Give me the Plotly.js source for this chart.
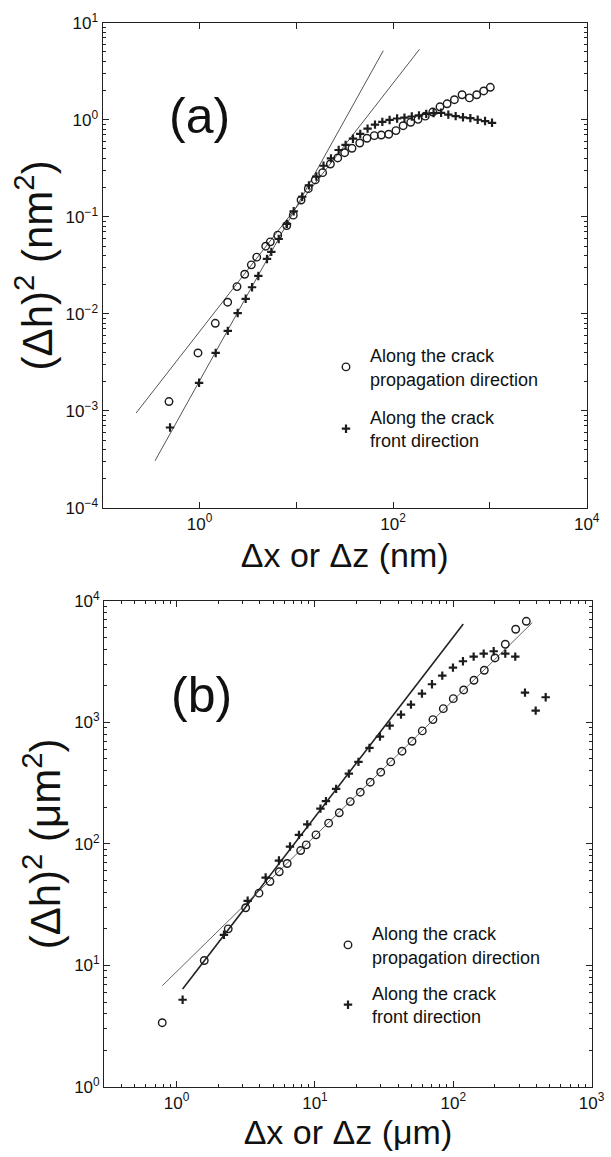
<!DOCTYPE html>
<html>
<head>
<meta charset="utf-8">
<script src="https://cdn.plot.ly/plotly-3.0.1.min.js"></script>
<style>html,body{margin:0;padding:0;background:#fff;}</style>
</head>
<body>
<div id="chart" style="width:611px;height:1157px;"></div>
<script>
// ---------- Panel (a): nm ----------
const a_prop_x = [0.484, 0.965, 1.456, 1.955, 2.44, 2.93, 3.43, 3.9, 4.83, 5.39, 6.43, 7.96, 9.31, 11.2, 13.3, 15.7, 18.7, 22.5, 26.8, 31.6, 37.6, 45.2, 53.7, 63.9, 75.5, 90.1, 107, 127, 152, 181, 215, 257, 305, 361, 430, 516, 614, 731, 863, 1010];
const a_prop_y = [0.00125, 0.00396, 0.0080, 0.0132, 0.0191, 0.0256, 0.032, 0.0384, 0.0498, 0.0552, 0.0647, 0.0812, 0.104, 0.149, 0.195, 0.24, 0.285, 0.35, 0.404, 0.458, 0.508, 0.576, 0.644, 0.686, 0.697, 0.709, 0.773, 0.869, 0.942, 1.01, 1.09, 1.2, 1.36, 1.46, 1.61, 1.81, 1.68, 1.81, 1.98, 2.16];
const a_front_x = [0.496, 0.99, 1.47, 1.96, 2.48, 3.0, 3.49, 4.05, 4.98, 5.52, 6.58, 8.01, 9.4, 11.5, 13.5, 16.1, 19.1, 22.8, 27.4, 32.3, 38.5, 45.8, 54.5, 65, 77.4, 92, 110, 131, 156, 185, 220, 262, 313, 372, 443, 527, 628, 748, 891, 1052];
const a_front_y = [0.000675, 0.00195, 0.00396, 0.00668, 0.0102, 0.0143, 0.0188, 0.0246, 0.0368, 0.0435, 0.0591, 0.0845, 0.114, 0.161, 0.211, 0.26, 0.336, 0.40, 0.488, 0.55, 0.638, 0.714, 0.81, 0.89, 0.95, 0.995, 1.03, 1.05, 1.08, 1.11, 1.15, 1.17, 1.18, 1.13, 1.09, 1.06, 1.04, 1.0, 0.97, 0.93];
const a_fit_steep_x = [0.347, 79.2];
const a_fit_steep_y = [0.000306, 5.15];
const a_fit_shallow_x = [0.221, 187.4];
const a_fit_shallow_y = [0.00095, 5.32];

// ---------- Panel (b): µm ----------
const b_prop_x = [0.787, 1.584, 2.361, 3.155, 3.937, 4.727, 5.52, 6.30, 7.88, 8.65, 10.17, 12.56, 14.99, 18.0, 21.26, 25.1, 29.9, 35.3, 42.6, 50.3, 59.7, 71.3, 84.7, 100, 118.9, 141.1, 167.6, 200.2, 237.7, 282.6, 337.2];
const b_prop_y = [3.38, 10.98, 20.0, 29.8, 39.3, 49.0, 58.9, 68.9, 88.1, 98.1, 118.6, 148, 180, 222.7, 266, 321.5, 388.6, 472, 578, 698, 849, 1052, 1295, 1564, 1845, 2217, 2679, 3381, 4382, 5821, 6770];
const b_front_x = [1.105, 2.198, 3.262, 4.40, 5.49, 6.60, 7.66, 8.80, 10.96, 12.01, 14.23, 17.58, 20.63, 24.78, 29.51, 34.68, 41.88, 49.44, 59.38, 70.15, 83.27, 99.5, 117.5, 140.4, 165.9, 196, 237.7, 280.7, 329.9, 394.3, 465.7];
const b_front_y = [5.22, 17.86, 34.0, 52.8, 72.9, 95.0, 118.6, 144.6, 194.7, 224.8, 283.3, 378.4, 472, 615, 762, 938.6, 1156, 1397, 1720, 2055, 2418, 2813, 3177, 3465, 3668, 3838, 3668, 3465, 1753, 1247, 1607];
const b_fit_steep_x = [1.105, 118.1];
const b_fit_steep_y = [6.39, 6435];
const b_fit_shallow_x = [0.787, 372.6];
const b_fit_shallow_y = [6.80, 6596];

// ---------- Labels / ticks ----------
const legend_prop = 'Along the crack<br>propagation direction';
const legend_front = 'Along the crack<br>front direction';
const a_xtickvals = [1, 100, 10000];
const a_xticktext = ['10<sup>0</sup>', '10<sup>2</sup>', '10<sup>4</sup>'];
const a_xunlabelled = [0.1, 10, 1000];
const a_ytickvals = [1e-4, 1e-3, 1e-2, 1e-1, 1, 10];
const a_yticktext = ['10<sup>\u22124</sup>', '10<sup>\u22123</sup>', '10<sup>\u22122</sup>', '10<sup>\u22121</sup>', '10<sup>0</sup>', '10<sup>1</sup>'];
const b_xtickvals = [1, 10, 100, 1000];
const b_xticktext = ['10<sup>0</sup>', '10<sup>1</sup>', '10<sup>2</sup>', '10<sup>3</sup>'];
const b_ytickvals = [1, 10, 100, 1000, 10000];
const b_yticktext = ['10<sup>0</sup>', '10<sup>1</sup>', '10<sup>2</sup>', '10<sup>3</sup>', '10<sup>4</sup>'];
const a_xtitle = '\u0394x or \u0394z (nm)';
const a_ytitle = '(\u0394h)<sup>2</sup> (nm<sup>2</sup>)';
const b_xtitle = '\u0394x or \u0394z (\u03bcm)';
const b_ytitle = '(\u0394h)<sup>2</sup> (\u03bcm<sup>2</sup>)';
const panel_a_label = '(a)';
const panel_b_label = '(b)';

function minorVals(kFrom, kTo) {
  const out = [];
  for (let k = kFrom; k <= kTo; k++) for (let m = 2; m <= 9; m++) out.push(m * Math.pow(10, k));
  return out;
}

const FONT = 'Liberation Sans, Arial, Helvetica, sans-serif';
const INK = '#1c1c1c';

const circleMarker = {symbol: 'circle-open', size: 7.5, color: INK, line: {color: INK, width: 1.4}};
const plusMarker = {symbol: 'cross-thin-open', size: 6, color: INK, line: {color: INK, width: 2.2}};

const traces = [
  {x: a_fit_steep_x, y: a_fit_steep_y, xaxis: 'x', yaxis: 'y', mode: 'lines', line: {color: '#555', width: 1}, showlegend: false, hoverinfo: 'skip'},
  {x: a_fit_shallow_x, y: a_fit_shallow_y, xaxis: 'x', yaxis: 'y', mode: 'lines', line: {color: '#555', width: 1}, showlegend: false, hoverinfo: 'skip'},
  {x: a_prop_x, y: a_prop_y, xaxis: 'x', yaxis: 'y', mode: 'markers', marker: circleMarker, name: legend_prop, legend: 'legend', legendgroup: 'a1'},
  {x: a_front_x, y: a_front_y, xaxis: 'x', yaxis: 'y', mode: 'markers', marker: plusMarker, name: legend_front, legend: 'legend', legendgroup: 'a2'},
  {x: b_fit_steep_x, y: b_fit_steep_y, xaxis: 'x2', yaxis: 'y2', mode: 'lines', line: {color: '#222', width: 1.6}, showlegend: false, hoverinfo: 'skip'},
  {x: b_fit_shallow_x, y: b_fit_shallow_y, xaxis: 'x2', yaxis: 'y2', mode: 'lines', line: {color: '#666', width: 1}, showlegend: false, hoverinfo: 'skip'},
  {x: b_prop_x, y: b_prop_y, xaxis: 'x2', yaxis: 'y2', mode: 'markers', marker: circleMarker, name: legend_prop, legend: 'legend2', legendgroup: 'b1'},
  {x: b_front_x, y: b_front_y, xaxis: 'x2', yaxis: 'y2', mode: 'markers', marker: plusMarker, name: legend_front, legend: 'legend2', legendgroup: 'b2'}
];

const W = 611, H = 1157;
function px2x(p) { return p / W; }
function py2y(p) { return 1 - p / H; }

const axisBase = {
  type: 'log', showline: true, linecolor: '#222', linewidth: 1.2, mirror: 'allticks',
  ticks: 'inside', ticklen: 6, tickwidth: 1, tickcolor: '#222',
  showgrid: false, zeroline: false, tickmode: 'array', automargin: false,
  tickfont: {family: FONT, size: 17, color: '#111'}
};
const minorBase = {ticks: 'inside', ticklen: 3, tickwidth: 1, tickcolor: '#222', tickmode: 'array', showgrid: false};

const layout = {
  width: W, height: H,
  margin: {l: 0, r: 0, t: 0, b: 0},
  paper_bgcolor: '#fff', plot_bgcolor: '#fff',
  font: {family: FONT, color: '#111', size: 17},
  showlegend: true,
  xaxis: Object.assign({}, axisBase, {
    domain: [px2x(102.7), px2x(586.7)], range: [-1, 4], anchor: 'y',
    tickvals: a_xtickvals, ticktext: a_xticktext,
    minor: Object.assign({}, minorBase, {ticklen: 6, tickvals: a_xunlabelled}),
    title: {text: a_xtitle, standoff: 10, font: {family: FONT, size: 34, color: '#111'}}
  }),
  yaxis: Object.assign({}, axisBase, {
    domain: [py2y(508), py2y(22.7)], range: [-4, 1], anchor: 'x',
    tickvals: a_ytickvals, ticktext: a_yticktext,
    minor: Object.assign({}, minorBase, {tickvals: minorVals(-4, 0)}),
    title: {text: a_ytitle, standoff: 0, font: {family: FONT, size: 42, color: '#111'}}
  }),
  xaxis2: Object.assign({}, axisBase, {
    domain: [px2x(104.3), px2x(591.6)], range: [Math.log10(0.3), 3], anchor: 'y2',
    tickvals: b_xtickvals, ticktext: b_xticktext,
    minor: Object.assign({}, minorBase, {tickvals: minorVals(-1, 2)}),
    title: {text: b_xtitle, standoff: 8, font: {family: FONT, size: 34, color: '#111'}}
  }),
  yaxis2: Object.assign({}, axisBase, {
    domain: [py2y(1087), py2y(600.7)], range: [0, 4], anchor: 'x2',
    tickvals: b_ytickvals, ticktext: b_yticktext,
    minor: Object.assign({}, minorBase, {tickvals: minorVals(0, 3)}),
    title: {text: b_ytitle, standoff: 0, font: {family: FONT, size: 42, color: '#111'}}
  }),
  legend: {
    x: px2x(322), y: py2y(337), xanchor: 'left', yanchor: 'top', itemwidth: 38,
    bgcolor: 'rgba(0,0,0,0)', borderwidth: 0, tracegroupgap: 12,
    font: {family: FONT, size: 18, color: '#111'}
  },
  legend2: {
    x: px2x(324), y: py2y(915), xanchor: 'left', yanchor: 'top', itemwidth: 38,
    bgcolor: 'rgba(0,0,0,0)', borderwidth: 0, tracegroupgap: 10,
    font: {family: FONT, size: 18, color: '#111'}
  },
  annotations: [
    {text: panel_a_label, xref: 'paper', yref: 'paper', x: px2x(199.5), y: py2y(116), xanchor: 'center', yanchor: 'middle', showarrow: false, font: {family: FONT, size: 50, color: '#111'}},
    {text: panel_b_label, xref: 'paper', yref: 'paper', x: px2x(201), y: py2y(695), xanchor: 'center', yanchor: 'middle', showarrow: false, font: {family: FONT, size: 50, color: '#111'}}
  ]
};

Plotly.newPlot('chart', traces, layout, {staticPlot: true, displayModeBar: false});
</script>
</body>
</html>
